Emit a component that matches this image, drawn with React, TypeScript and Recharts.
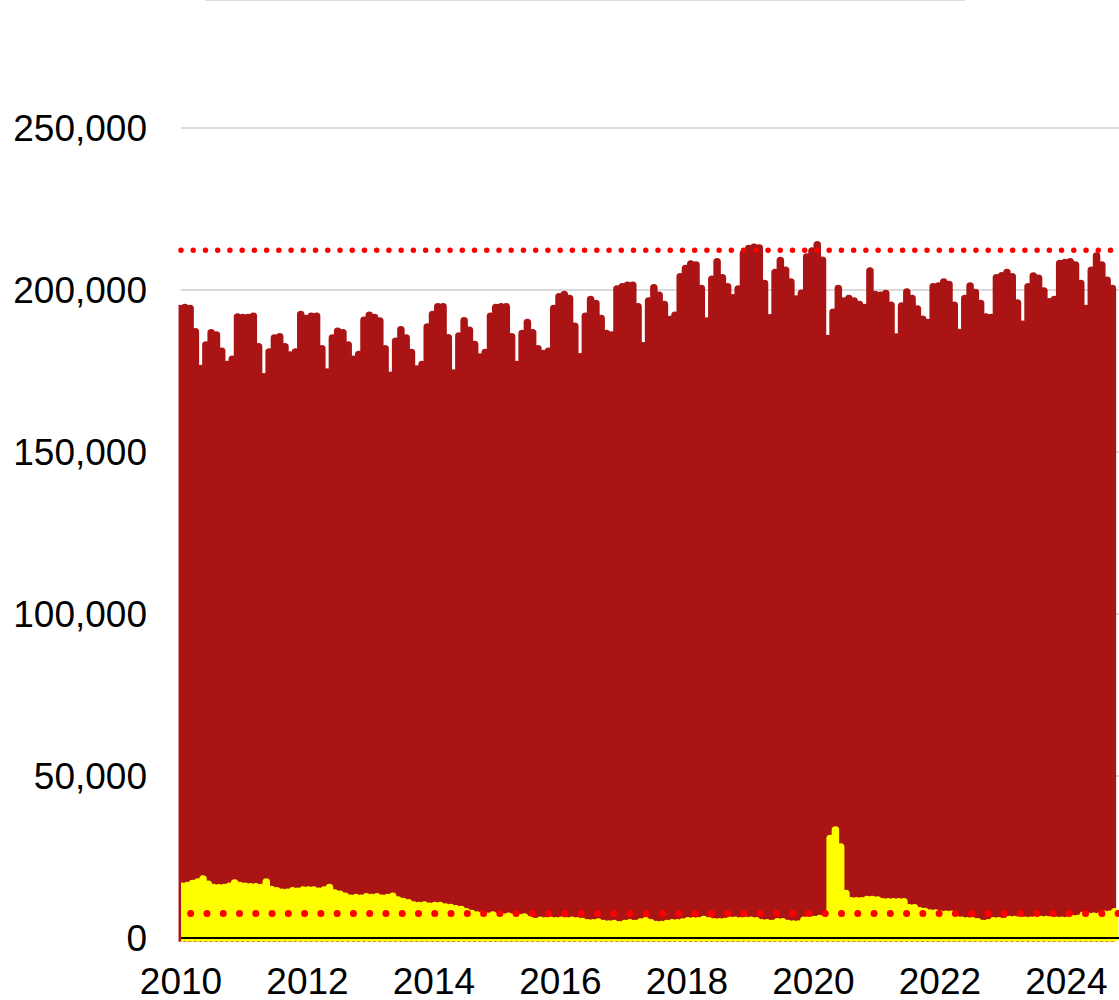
import { ComposedChart, Bar, XAxis, YAxis, CartesianGrid, ReferenceLine } from 'recharts';

// monthly series, Jan 2010 .. Oct 2024
const startYear = 2010;

const redSeries = [
  194300, 194600, 194300, 187100, 175800, 183000, 186800, 186100, 181100, 177000, 178600, 191700,
  191500, 191500, 191900, 182500, 173200, 180900, 185200, 185600, 182500, 179900, 180900, 192400,
  191200, 191900, 191900, 181900, 174700, 185200, 187300, 186800, 183000, 178600, 180100, 190700,
  192200, 191500, 190400, 181900, 173700, 184200, 187700, 185200, 180700, 175600, 177000, 188600,
  192400, 194800, 194800, 185300, 174400, 185800, 190500, 187600, 183200, 179300, 180700, 191900,
  194600, 194800, 194800, 185600, 177000, 186600, 190000, 186800, 181900, 180400, 181100, 194300,
  197900, 198600, 197400, 188800, 179400, 191900, 197100, 195800, 191200, 186600, 186100, 200300,
  201000, 201500, 201500, 194800, 182800, 196600, 200700, 198400, 195500, 190900, 192200, 204100,
  206600, 208000, 207700, 200500, 190400, 203300, 208700, 203800, 201000, 197600, 200300, 211300,
  212800, 213200, 213000, 202000, 191400, 205400, 209100, 206100, 202500, 197200, 199000, 210200,
  212000, 214000, 209200, 185000, 193100, 200500, 196600, 197400, 196600, 195500, 194600, 205900,
  198600, 198400, 198900, 195300, 185500, 195100, 199400, 197400, 194100, 191000, 190000, 201000,
  201200, 202500, 201700, 195300, 186900, 197400, 201200, 199200, 195800, 191700, 191500, 203800,
  204400, 205400, 204100, 196000, 189400, 201000, 204300, 203600, 199700, 196400, 197100, 208200,
  208500, 208700, 207700, 202000, 194300, 206100, 210500, 207700, 203000, 200500,
];

const yellowSeries = [
  16000, 16200, 16800, 17300, 18200, 16600, 15600, 15500, 15600, 16000, 17000, 16200,
  16000, 15800, 15800, 15600, 17300, 15000, 14600, 14100, 14100, 14600, 14400, 14800,
  14800, 14800, 14400, 14800, 15600, 13900, 13500, 12900, 12300, 12500, 12300, 12700,
  12500, 12700, 12300, 12500, 12900, 11700, 11300, 10900, 10200, 10000, 10200, 9800,
  10000, 10000, 9600, 9400, 9000, 8800, 8100, 7600, 7100, 7100, 6700, 7100,
  6700, 6500, 6700, 6500, 6300, 6500, 5700, 5100, 5500, 5300, 5500, 5300,
  5500, 5300, 5500, 5300, 5100, 4700, 4700, 4900, 4500, 4300, 4500, 4100,
  4500, 4700, 4500, 4900, 5300, 4700, 4200, 4200, 4500, 4700, 4700, 4900,
  5300, 5300, 5300, 5700, 5300, 5000, 5000, 5100, 5500, 5500, 5300, 5500,
  5500, 5300, 4700, 4700, 4500, 5000, 5000, 4500, 4300, 4300, 5500, 5700,
  5700, 6000, 6000, 30700, 33300, 28100, 13700, 11500, 11500, 11500, 11900, 11900,
  11700, 11200, 11200, 11200, 11200, 11200, 9300, 9300, 8400, 8200, 7700, 7700,
  7300, 7300, 7300, 5700, 5500, 5300, 5300, 5000, 4500, 4700, 5300, 5300,
  5100, 5700, 5700, 5700, 5500, 5500, 5700, 5700, 5700, 5700, 5500, 5500,
  5500, 6000, 6000, 7000, 6700, 6700, 6700, 7300, 7300, 8100,
];

const yearTicks = [2010, 2012, 2014, 2016, 2018, 2020, 2022, 2024];
const valueTicks = [0, 50000, 100000, 150000, 200000, 250000];
const upperLimit = 212300;
const lowerLimit = 7600;

const data = redSeries.map((v, i) => ({
  t: startYear + i / 12,
  red: v,
  yellow: yellowSeries[i],
}));

const font = 'Liberation Sans, Arial, Helvetica, sans-serif';

// each month drawn as a thick round-capped needle; the first one is cut at the plot edge
function Needle(props: any) {
  const { x, y, width, height, fill, index, clipId } = props;
  if (x == null || y == null || !isFinite(y) || !isFinite(height)) return null;
  const cx = x + width / 2;
  const line = (
    <line
      x1={cx}
      x2={cx}
      y1={y + height}
      y2={y}
      stroke={fill}
      strokeWidth={7.5}
      strokeLinecap="round"
      clipPath={index === 0 ? `url(#${clipId})` : undefined}
    />
  );
  if (index !== 0) return line;
  return (
    <g>
      <defs>
        <clipPath id={clipId}>
          <rect x={cx - 1} y={0} width={20} height={2000} />
        </clipPath>
      </defs>
      {line}
    </g>
  );
}

export default function App() {
  return (
    <div style={{ position: 'absolute', left: 0, top: 0, width: 1119, height: 1000, background: '#fff', fontFamily: font }}>
      <div style={{ position: 'absolute', left: 205, top: 0, width: 760, height: 1, background: '#DDDDDD' }} />
      <ComposedChart
        width={1119}
        height={1000}
        data={data}
        margin={{ top: 128, right: 0, bottom: 0, left: 0 }}
        barGap={-8}
      >
        <CartesianGrid vertical={false} stroke="#D9D9D9" strokeWidth={2} />
        <YAxis
          type="number"
          domain={[0, 250000]}
          ticks={valueTicks}
          width={181}
          axisLine={false}
          tickLine={false}
          tickSize={0}
          tickMargin={34}
          tick={{ fontSize: 37, fill: '#000', fontFamily: font }}
          tickFormatter={(v: number) => v.toLocaleString('en-US')}
        />
        <Bar
          dataKey="red"
          fill="#AA1414"
          barSize={8}
          isAnimationActive={false}
          shape={(p: any) => <Needle {...p} clipId="clip-red-first" />}
        />
        <Bar
          dataKey="yellow"
          fill="#FFFF00"
          barSize={8}
          isAnimationActive={false}
          shape={(p: any) => <Needle {...p} clipId="clip-yellow-first" />}
        />
        <ReferenceLine
          y={upperLimit}
          stroke="#FF0000"
          strokeWidth={5.5}
          strokeDasharray="0 12.23"
          strokeLinecap="round"
        />
        <ReferenceLine
          y={lowerLimit}
          stroke="#FF0000"
          strokeWidth={7}
          strokeDasharray="0 16.27"
          strokeDashoffset={6.57}
          strokeLinecap="round"
        />
        <XAxis
          dataKey="t"
          type="number"
          domain={[2010, 2024.832]}
          ticks={yearTicks}
          interval={0}
          height={62}
          axisLine={{ stroke: '#000', strokeWidth: 2 }}
          tickLine={false}
          tickSize={0}
          tickMargin={30}
          tick={{ fontSize: 37, fill: '#000', fontFamily: font }}
          tickFormatter={(v: number) => String(v)}
        />
      </ComposedChart>
    </div>
  );
}
